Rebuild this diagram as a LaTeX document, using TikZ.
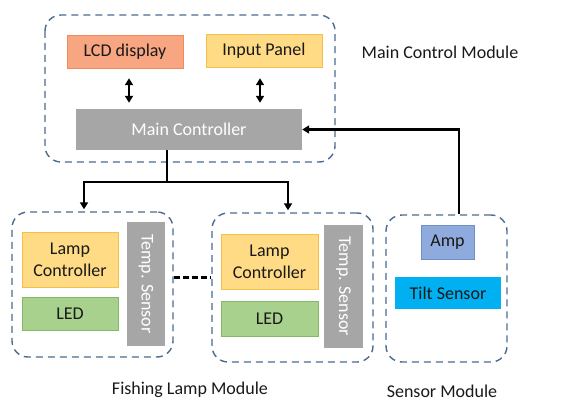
\documentclass[tikz,border=0pt]{standalone}
\usepackage{fontspec}
\setmainfont{Carlito}
\usepackage{xcolor}
\usetikzlibrary{arrows.meta,positioning}

\definecolor{lcdfill}{HTML}{F8A582}
\definecolor{lcdline}{HTML}{EE8A5C}
\definecolor{ylwfill}{HTML}{FFDB85}
\definecolor{ylwline}{HTML}{F5C04A}
\definecolor{grnfill}{HTML}{A9D18E}
\definecolor{grnline}{HTML}{82B866}
\definecolor{ampfill}{HTML}{8FAADC}
\definecolor{ampline}{HTML}{6F8FC9}
\definecolor{tiltfill}{HTML}{00B0F0}
\definecolor{modline}{HTML}{4A6A90}
\definecolor{ctrlgray}{HTML}{A6A6A6}

\tikzset{
  ctip/.tip={Triangle[length=7pt,width=8pt]},
  block/.style={rectangle, inner sep=0pt, align=center, text=black!90},
  module/.style={draw=modline, line width=1.4pt, dash pattern=on 7pt off 5pt, rounded corners=16pt},
  wire/.style={line width=2.6pt, -ctip},
  title/.style={text=black!90}
}

\begin{document}
\fontsize{18}{22}\selectfont
\begin{tikzpicture}[x=1pt, y=-1pt]
  \useasboundingbox (0,0) rectangle (577,403);

  % main control module
  \node[block, fill=lcdfill, draw=lcdline, minimum width=116pt, minimum height=33pt] (lcd)   at (125,51.5) {LCD display};
  \node[block, fill=ylwfill, draw=ylwline, minimum width=116pt, minimum height=33pt] (input) at (264,50.5) {Input Panel};
  \node[block, fill=ctrlgray, text=white, minimum width=226pt, minimum height=41pt] (ctrl) at (189,129.5) {Main Controller};
  \draw[module] (45,15) rectangle (335,162);
  \node[title] (mainlbl) at (440,52) {Main Control Module};

  % fishing lamp modules
  \node[block, fill=ylwfill, draw=ylwline, minimum width=96pt, minimum height=55pt] (lamp1) at (70,259.5) {Lamp\\Controller};
  \node[block, fill=grnfill, draw=grnline, minimum width=96pt, minimum height=33pt] (led1) at (70,313.5) {LED};
  \node[block, fill=ctrlgray, text=white, minimum width=124pt, minimum height=38pt, rotate=-90] (temp1) at (146,284) {Temp. Sensor};
  \node[module, draw, minimum width=161pt, minimum height=145pt] (fl1) at (92.5,284.5) {};

  \node[block, fill=ylwfill, draw=ylwline, minimum width=97pt, minimum height=55pt] (lamp2) at (269.5,261.5) {Lamp\\Controller};
  \node[block, fill=grnfill, draw=grnline, minimum width=97pt, minimum height=35pt] (led2) at (269.5,318.5) {LED};
  \node[block, fill=ctrlgray, text=white, minimum width=123pt, minimum height=39pt, rotate=-90] (temp2) at (343.5,286.5) {Temp. Sensor};
  \node[module, draw, minimum width=161pt, minimum height=149pt] (fl2) at (292.5,287.5) {};

  \node[title] (fishlbl) at (190,390) {Fishing Lamp Module};

  % sensor module
  \node[block, fill=ampfill, draw=ampline, minimum width=53pt, minimum height=34pt] (amp) at (447.5,242) {Amp};
  \node[block, fill=tiltfill, minimum width=106pt, minimum height=32pt] (tilt) at (448,293) {Tilt Sensor};
  \node[module, draw, minimum width=121pt, minimum height=147pt] (sens) at (446.5,288.5) {};
  \node[title] (senslbl) at (442,391) {Sensor Module};

  % connectors
  \draw[wire, ctip-ctip, shorten <=10pt, shorten >=6pt]
    (lcd.south -| 129,0) -- (ctrl.north -| 129,0);
  \draw[wire, ctip-ctip, shorten <=11pt, shorten >=6pt]
    (input.south -| 260,0) -- (ctrl.north -| 260,0);

  \coordinate (split) at (167,182);
  \draw[line width=2.6pt] (ctrl.south -| split) -- (split);
  \draw[wire, shorten >=2pt] (split) -| (fl1.north -| 84,0);
  \draw[wire, shorten >=2pt] (split) -| (fl2.north -| 288,0);
  \draw[wire] (sens.north -| 459,0) |- (ctrl.east);
  \draw[line width=3pt, dash pattern=on 6pt off 3pt] (fl1.east |- 0,277) -- (fl2.west |- 0,277);
\end{tikzpicture}
\end{document}
